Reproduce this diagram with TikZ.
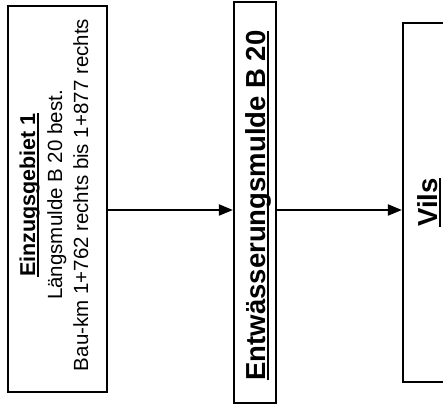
\documentclass[tikz,border=0pt]{standalone}
\usepackage{fontspec}
\setmainfont{Liberation Sans}
\usetikzlibrary{arrows.meta}
\newcommand{\myul}[1]{\setbox0\hbox{#1}\rlap{\rule[-4pt]{\wd0}{2pt}}\box0}
\begin{document}
\begin{tikzpicture}[x=1pt,y=1pt,
  box/.style={draw=black, line width=2.2pt, inner sep=0pt},
  txt/.style={rotate=90, anchor=base, inner sep=0pt},
  arr/.style={line width=2pt, -{Triangle[length=14pt,width=11pt]}},
  small/.style={font=\fontsize{20.5}{25}\selectfont},
  title/.style={font=\fontsize{21.5}{25}\selectfont\bfseries},
  big/.style={font=\fontsize{27.5}{32}\selectfont\bfseries}]
\useasboundingbox (0,0) rectangle (443,411);
\clip (0,0) rectangle (443,411);
% boxes (image y 6-392, 2-403, 23-382)
\node[box, minimum width=99pt, minimum height=386pt] (b1) at (57.5,212) {};
\node[box, minimum width=42pt, minimum height=401pt] (b2) at (255,208.5) {};
\node[box, minimum width=54pt, minimum height=359pt] (b3) at (430,208.5) {};
% texts
\node[txt, title] (t1a) at (35,216) {\myul{Einzugsgebiet 1}};
\node[txt, small] (t1b) at (62,216) {Längsmulde B 20 best.};
\node[txt, small] (t1c) at (88,216) {Bau-km 1+762 rechts bis 1+877 rechts};
\node[txt, big] (t2) at (265,205.5) {\myul{Entwässerungsmulde B 20}};
\node[txt, big] (t3) at (437,208.5) {\myul{Vils}};
% connectors
\coordinate (lvl) at (0,201);
\draw[arr] (b1.east |- lvl) -- (b2.west |- lvl);
\draw[arr] (b2.east |- lvl) -- (b3.west |- lvl);
\end{tikzpicture}
\end{document}
